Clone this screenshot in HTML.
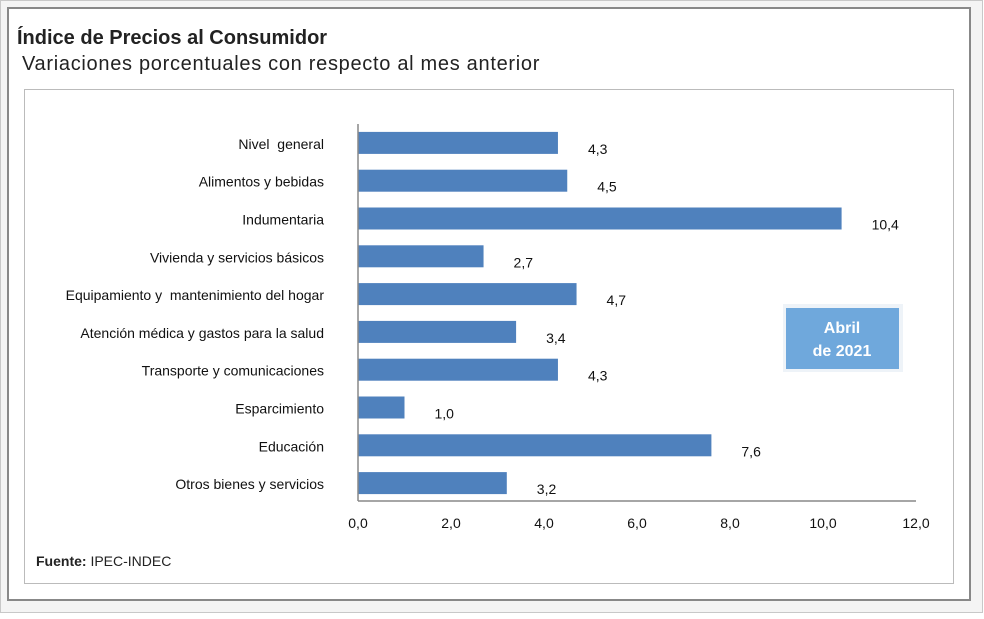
<!DOCTYPE html>
<html><head><meta charset="utf-8"><style>
body{margin:0;background:#fff;width:984px;height:614px;overflow:hidden;font-family:"Liberation Sans",sans-serif}
text{white-space:pre}
</style></head><body>
<svg width="984" height="614" xmlns="http://www.w3.org/2000/svg" font-family="Liberation Sans, sans-serif">
<rect x="0.5" y="0.5" width="982" height="612" fill="#f4f4f4" stroke="#c8c8c8"/>
<rect x="8" y="8" width="962" height="592" fill="#fff" stroke="#888" stroke-width="2"/>
<text x="17" y="44" font-size="20" font-weight="bold" fill="#222">Índice de Precios al Consumidor</text>
<text x="22" y="70" font-size="20" letter-spacing="0.7" fill="#222">Variaciones porcentuales con respecto al mes anterior</text>
<rect x="24.5" y="89.5" width="929" height="494" fill="#fff" stroke="#bbb"/>
<g id="chart"></g>
<rect x="783" y="304" width="120" height="68" fill="#eef3f8"/>
<rect x="786" y="308" width="113" height="61" fill="#6fa8dc"/>
<text x="842" y="333" font-size="16" font-weight="bold" fill="#fff" text-anchor="middle">Abril</text>
<text x="842" y="356" font-size="16" font-weight="bold" fill="#fff" text-anchor="middle">de 2021</text>
<text x="36" y="566" font-size="14" fill="#222"><tspan font-weight="bold">Fuente:</tspan> IPEC-INDEC</text>
</svg>
<script>
const categories=["Nivel  general","Alimentos y bebidas","Indumentaria","Vivienda y servicios básicos","Equipamiento y  mantenimiento del hogar","Atención médica y gastos para la salud","Transporte y comunicaciones","Esparcimiento","Educación","Otros bienes y servicios"];
const values=[4.3,4.5,10.4,2.7,4.7,3.4,4.3,1.0,7.6,3.2];
const valueLabels=["4,3","4,5","10,4","2,7","4,7","3,4","4,3","1,0","7,6","3,2"];
const ticks=[0,2,4,6,8,10,12];
const tickLabels=["0,0","2,0","4,0","6,0","8,0","10,0","12,0"];
const NS="http://www.w3.org/2000/svg";
const g=document.getElementById('chart');
const x=v=>358+v*(558/12);
const y=i=>124+i*37.8;
const bh=22;
function mk(t,a,txt){const e=document.createElementNS(NS,t);for(const k in a)e.setAttribute(k,a[k]);if(txt!=null)e.textContent=txt;g.appendChild(e);return e;}
values.forEach((v,i)=>{
 const cy=y(i)+18.9;
 const b=mk('rect',{x:x(0),y:cy-bh/2,width:x(v)-x(0),height:bh,fill:'#4f81bd'});
 
 
 const l=mk('text',{x:x(v)+30,y:cy+11,'font-size':14,fill:'#111','text-anchor':'start'},valueLabels[i]);
 
 
 const c=mk('text',{x:324,y:cy+6,'font-size':14,fill:'#111','text-anchor':'end'},categories[i]);
 
 
});
const ya=mk('line',{x1:x(0),x2:x(0),y1:124,y2:501,stroke:'#888','stroke-width':1.5});


const xa=mk('line',{x1:x(0),x2:x(12),y1:501,y2:501,stroke:'#888','stroke-width':1.5});


ticks.forEach((t,i)=>{
 const e=mk('text',{x:x(t),y:528,'font-size':14,fill:'#111','text-anchor':'middle'},tickLabels[i]);
 
 
});
</script>
</body></html>
